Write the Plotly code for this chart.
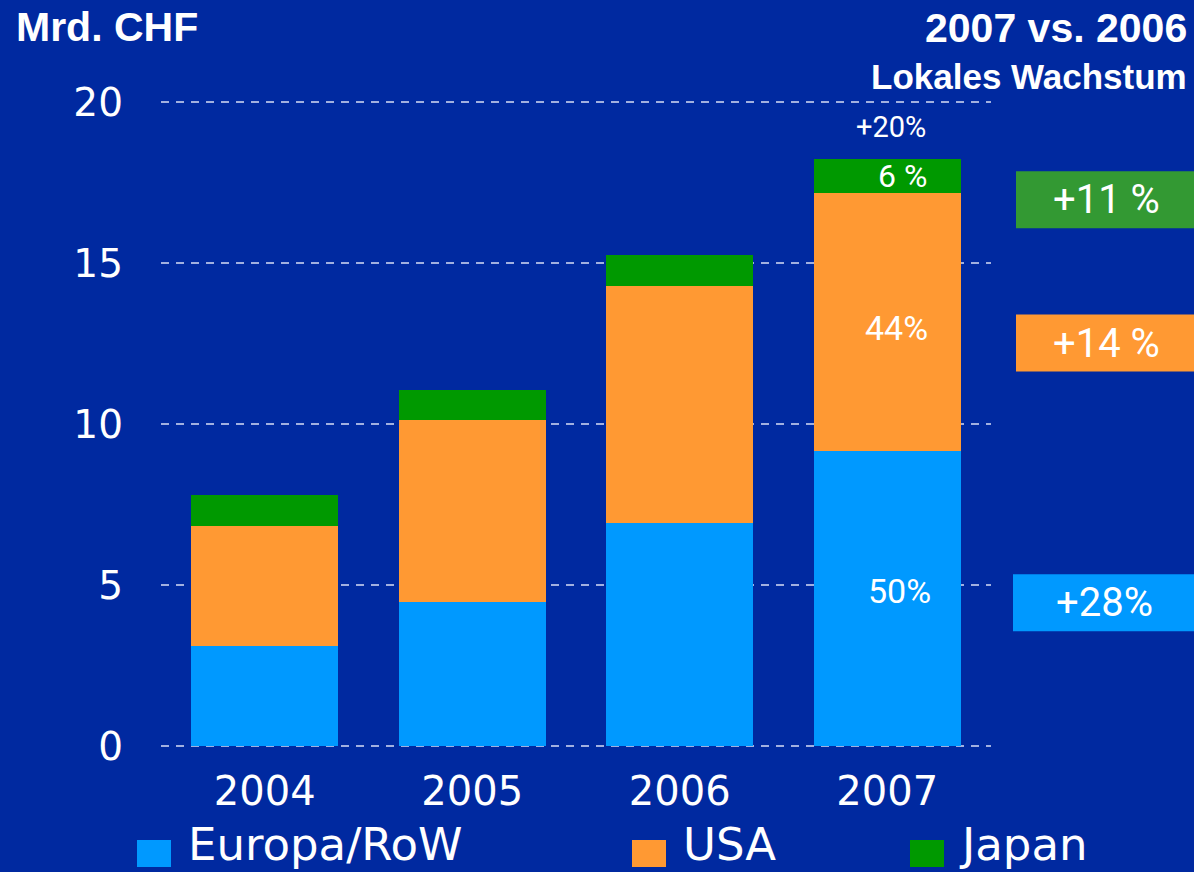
import plotly.graph_objects as go

# ---- data ----
years = ["2004", "2005", "2006", "2007"]
europa = [3.09, 4.46, 6.91, 9.15]
usa = [3.73, 5.65, 7.37, 8.04]
japan = [0.96, 0.96, 0.96, 1.03]
series_names = ["Europa/RoW", "USA", "Japan"]
share_labels_2007 = ["50%", "44%", "6 %"]
total_growth_2007 = "+20%"
local_growth = ["+28%", "+14 %", "+11 %"]
y_ticks = [0, 5, 10, 15, 20]

# ---- style ----
BG = "#0029A0"
C_EU = "#0099FF"
C_US = "#FF9933"
C_JP = "#009900"
C_JP_BOX = "#339933"
GRID = "rgba(190,200,235,0.85)"

W, H = 1194, 872
ML, MR, MT, MB = 161, 203, 86, 110
PW, PH = W - ML - MR, H - MT - MB


def px(xp):
    return (xp - ML) / PW


def py(yp):
    return (H - MB - yp) / PH


fig = go.Figure()
for name, vals, col in zip(series_names, [europa, usa, japan], [C_EU, C_US, C_JP]):
    fig.add_trace(go.Bar(x=years, y=vals, name=name, marker=dict(color=col, line=dict(width=0)),
                         showlegend=False, hoverinfo="x+y+name"))

fig.update_layout(
    width=W, height=H,
    barmode="stack", bargap=0.29,
    paper_bgcolor=BG, plot_bgcolor=BG,
    margin=dict(l=ML, r=MR, t=MT, b=MB),
    font=dict(family="DejaVu Sans", color="white"),
    xaxis=dict(type="category", showgrid=False, showline=False, ticks="", zeroline=False,
               tickfont=dict(family="DejaVu Sans", size=40, color="white"),
               ticklabelstandoff=2, range=[-0.5, 3.5]),
    yaxis=dict(range=[-0.5, 20.5], tickvals=y_ticks, showgrid=True, gridcolor=GRID,
               gridwidth=1.5, griddash="8px,7px", zeroline=False, showline=False, ticks="",
               tickfont=dict(family="DejaVu Sans", size=39, color="white"),
               ticklabelstandoff=37),
)

ann = []
shapes = []

# titles
ann.append(dict(text="<b>Mrd. CHF</b>", xref="paper", yref="paper", x=px(14), y=py(27),
                xanchor="left", yanchor="middle", showarrow=False,
                font=dict(family="Liberation Sans", size=41, color="white")))
ann.append(dict(text="<b>2007 vs. 2006</b>", xref="paper", yref="paper", x=px(1189), y=py(28),
                xanchor="right", yanchor="middle", showarrow=False,
                font=dict(family="Liberation Sans", size=41, color="white")))
ann.append(dict(text="<b>Lokales Wachstum</b>", xref="paper", yref="paper", x=px(1189), y=py(76),
                xanchor="right", yanchor="middle", showarrow=False,
                font=dict(family="Liberation Sans", size=35, color="white")))

# 2007 bar labels
i = 3
mid_eu = europa[i] / 2
mid_us = europa[i] + usa[i] / 2
mid_jp = europa[i] + usa[i] + japan[i] / 2
top = europa[i] + usa[i] + japan[i]
for txt, yv, xs, ys, sz in [
    (share_labels_2007[0], mid_eu, 12, 8, 34),
    (share_labels_2007[1], mid_us, 9, -6, 34),
    (share_labels_2007[2], mid_jp, 15, 0, 32),
    (total_growth_2007, top, 4, 32, 29),
]:
    ann.append(dict(text=txt, x=i, y=yv, xref="x", yref="y", xshift=xs, yshift=ys,
                    showarrow=False, xanchor="center", yanchor="middle",
                    font=dict(family="Roboto", size=sz, color="white")))

# right side growth boxes
for txt, y0, y1, x0, col, tx in [
    (local_growth[2], 16.08, 17.85, 1016, C_JP_BOX, 1106),
    (local_growth[1], 11.63, 13.40, 1016, C_US, 1106),
    (local_growth[0], 3.56, 5.33, 1013, C_EU, 1104),
]:
    shapes.append(dict(type="rect", xref="paper", yref="y", x0=px(x0), x1=px(1200),
                       y0=y0, y1=y1, fillcolor=col, line=dict(width=0), layer="above"))
    ann.append(dict(text=txt, xref="paper", yref="y", x=px(tx), y=(y0 + y1) / 2,
                    showarrow=False, xanchor="center", yanchor="middle",
                    font=dict(family="Roboto", size=40, color="white")))

# custom legend
for name, col, sx, tx in [
    (series_names[0], C_EU, 137, 186),
    (series_names[1], C_US, 632, 681),
    (series_names[2], C_JP, 910, 957),
]:
    shapes.append(dict(type="rect", xref="paper", yref="paper", x0=px(sx), x1=px(sx + 34),
                       y0=py(867), y1=py(840), fillcolor=col, line=dict(width=0)))
    ann.append(dict(text=name, xref="paper", yref="paper", x=px(tx), y=py(845),
                    showarrow=False, xanchor="left", yanchor="middle",
                    font=dict(family="DejaVu Sans", size=45, color="white")))

fig.update_layout(annotations=ann, shapes=shapes)
fig.write_html("out.html", config={"displayModeBar": False},
               post_script="document.body.style.margin='0px';")
